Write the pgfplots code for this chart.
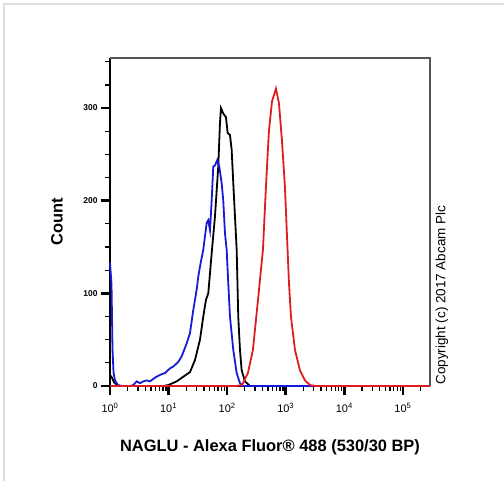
\documentclass[border=0pt]{standalone}
\usepackage{fontspec}
\setmainfont{Liberation Sans}
\usepackage{pgfplots}
\pgfplotsset{compat=1.18}
\definecolor{fcblue}{RGB}{25,25,215}
\definecolor{fcred}{RGB}{220,30,35}
\definecolor{framegray}{RGB}{222,222,222}
\definecolor{boxgray}{RGB}{85,85,85}

\begin{document}
\begin{tikzpicture}[x=1bp,y=1bp]
\useasboundingbox (0,0) rectangle (504,481);
\draw[framegray, line width=2.5bp] (4,0) -- (4,477) -- (504,477);
\begin{axis}[
    at={(110bp,95bp)}, anchor=south west,
    scale only axis, width=320bp, height=328bp,
    xmode=log, xmin=1, xmax=2.9e5,
    ymin=0, ymax=354,
    xtick={1,10,100,1000,10000,100000},
    xticklabels={10\textsuperscript{0},10\textsuperscript{1},10\textsuperscript{2},10\textsuperscript{3},10\textsuperscript{4},10\textsuperscript{5}},
    minor xtick={2,3,4,5,6,7,8,9,20,30,40,50,60,70,80,90,200,300,400,500,600,700,800,900,2000,3000,4000,5000,6000,7000,8000,9000,20000,30000,40000,50000,60000,70000,80000,90000,200000},
    ytick={0,100,200,300},
    yticklabels={0,100,200,300},
    minor ytick={25,50,75,125,150,175,225,250,275,325,350},
    axis lines=left,
    axis line style={-, line width=1.4bp, black},
    tick align=outside,
    major tick length=9bp, minor tick length=5bp,
    tick style={black, line width=1.3bp},
    major tick style={black, line width=2.6bp},
    minor tick style={black, line width=1.3bp},
    xticklabel style={font=\fontsize{11}{12}\selectfont, yshift=-5bp},
    yticklabel style={font=\bfseries\fontsize{8.5}{9}\selectfont},
    xlabel={NAGLU - Alexa Fluor® 488 (530/30 BP)},
    xlabel style={font=\bfseries\fontsize{16.5}{19}\selectfont, at={(axis description cs:0.5,-0.186)}, anchor=center},
    ylabel={Count},
    ylabel style={font=\bfseries\fontsize{16.5}{19}\selectfont, at={(axis description cs:-0.166,0.5)}, anchor=center},
    clip=false,
]
% unstained / isotype control
\addplot[black, line width=1.8bp] coordinates {
(1.0,12) (1.082,9) (1.170,4) (1.266,2) (1.369,0) (8.025,0) (9.883,1)
(13.75,5) (17.82,10) (23.19,15) (28.22,28) (34.35,50) (39.10,75)
(43.47,93) (47.60,100) (55.03,147) (61.92,183) (70.49,237) (75.38,284)
(78.41,300) (85.79,294) (95.39,290) (102.0,273) (111.6,271) (119.3,255)
(127.1,219) (135.9,183) (145.3,147) (150,110) (154.6,75) (165.3,39)
(176.8,17) (201.3,5) (244.9,0) (290000,0)
};
% secondary only
\addplot[fcblue, line width=1.8bp] coordinates {
(1.0,133) (1.061,110) (1.103,40) (1.147,15) (1.217,6) (1.369,1) (1.602,0)
(2.194,0) (2.498,1) (2.855,5) (3.251,3) (3.701,5) (4.230,6) (4.815,5)
(5.861,9) (7.133,12) (8.683,14) (10.56,19) (12.03,21) (14.64,26)
(16.73,32) (20.37,46) (23.19,57) (26.40,82) (30.17,104) (32.13,118)
(34.35,129) (39.10,147) (44.69,176) (47.60,179) (50.87,168) (54.38,200)
(57.92,237) (61.92,238) (67.78,244) (73.32,237) (80.55,219) (85.79,200)
(91.73,165) (98.06,147) (104.4,111) (111.6,75) (127.1,39) (145.3,14)
(165.3,3) (186.1,0) (290000,0)
};
% NAGLU stained
\addplot[fcred, line width=1.8bp] coordinates {
(1,0) (141,0) (179,1) (226,14) (275,39) (336,93) (408,147) (459,215)
(516,275) (582,307) (681,321) (766,305) (861,265) (968,215) (1069,150)
(1135,111) (1227,75) (1436,39) (1746,17) (2128,6) (2588,1) (3273,0)
(290000,0)
};
\draw[boxgray, line width=1.4bp] (rel axis cs:0,1) -- (rel axis cs:1,1) -- (rel axis cs:1,0);
\node[rotate=90, anchor=west, font=\fontsize{13.5}{15}\selectfont] at (axis description cs:1.037,-0.006) {Copyright (c) 2017 Abcam Plc};
\end{axis}
\end{tikzpicture}
\end{document}
